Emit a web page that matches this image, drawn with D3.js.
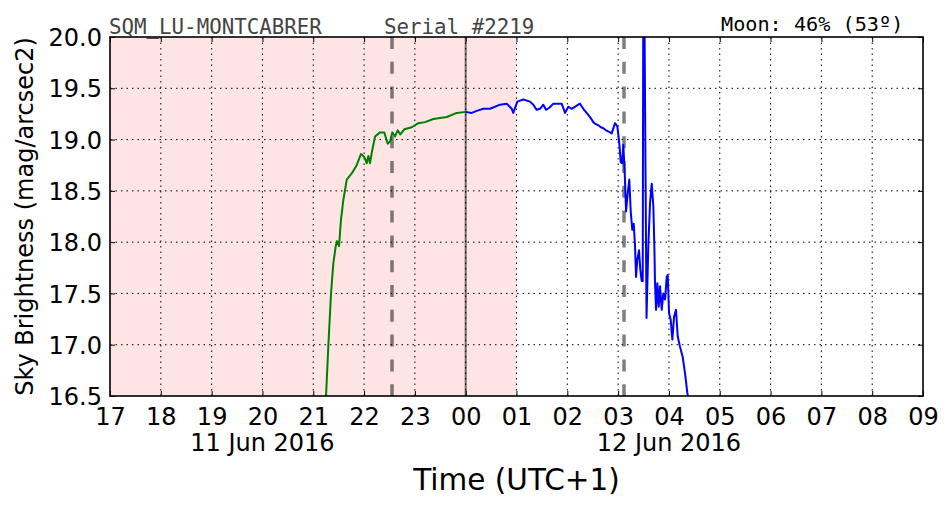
<!DOCTYPE html>
<html>
<head>
<meta charset="utf-8">
<script src="https://cdn.jsdelivr.net/npm/d3@7"></script>
<style>
  body { margin: 0; background: #fff; }
  svg { display: block; }
</style>
</head>
<body>
<div id="chart"></div>
<script>
// hours counted from 00:00 on 11 Jun 2016 (24 = midnight, 12 Jun)
const xTicks = d3.range(17, 34);
const yTicks = [16.5, 17.0, 17.5, 18.0, 18.5, 19.0, 19.5, 20.0];
const dateLabels = [
  { hour: 20, text: '11 Jun 2016' },
  { hour: 28, text: '12 Jun 2016' },
];
const twilightLines = [22.55, 27.116];
const midnight = 24;
const nightBand = [17, 25];

const greenHours = [21.247, 21.296, 21.35, 21.395, 21.442, 21.468, 21.507, 21.546, 21.592, 21.659,
  21.757, 21.855, 21.94, 22.005, 22.052, 22.084, 22.117, 22.151, 22.216, 22.314,
  22.398, 22.465, 22.511, 22.556, 22.609, 22.662, 22.713, 22.792, 22.938, 23.068,
  23.2, 23.363, 23.627, 23.824, 24.0];
const greenMag = [16.45, 16.98, 17.5, 17.79, 17.96, 18.01, 17.96, 18.22, 18.41, 18.61,
  18.67, 18.75, 18.86, 18.83, 18.77, 18.84, 18.77, 18.87, 19.03, 19.07,
  19.07, 18.96, 18.98, 19.07, 19.03, 19.09, 19.05, 19.10, 19.12, 19.16,
  19.17, 19.20, 19.22, 19.26, 19.27];

const blueHours = [24.0, 24.119, 24.217, 24.347, 24.479, 24.676, 24.807, 24.906, 24.937, 25.016,
  25.134, 25.266, 25.331, 25.398, 25.463, 25.528, 25.581, 25.646, 25.725, 25.823,
  25.89, 25.955, 26.02, 26.087, 26.185, 26.25, 26.315, 26.413, 26.46, 26.512, 26.56, 26.61,
  26.66, 26.709, 26.76, 26.807, 26.874, 26.939, 26.984, 27.024, 27.051, 27.077, 27.102, 27.13,
  27.156, 27.189, 27.22, 27.248, 27.279, 27.307, 27.332, 27.352, 27.378, 27.411,
  27.437, 27.464, 27.484, 27.496, 27.513, 27.559, 27.594, 27.628, 27.661, 27.693,
  27.713, 27.726, 27.746, 27.772, 27.799, 27.825, 27.858, 27.89, 27.923, 27.957,
  27.976, 28.002, 28.035, 28.067, 28.1, 28.139, 28.173, 28.218, 28.271, 28.317,
  28.362, 28.385];
const blueMag = [19.27, 19.26, 19.28, 19.30, 19.30, 19.34, 19.35, 19.30, 19.26, 19.37,
  19.39, 19.37, 19.34, 19.29, 19.30, 19.34, 19.29, 19.31, 19.35, 19.35,
  19.35, 19.26, 19.32, 19.30, 19.33, 19.35, 19.30, 19.24, 19.21, 19.17, 19.15, 19.14,
  19.12, 19.11, 19.09, 19.08, 19.06, 19.16, 19.13, 18.96, 18.78, 18.77, 18.95, 18.67,
  18.30, 18.48, 18.61, 18.30, 18.12, 18.18, 17.97, 17.66, 17.83, 17.92,
  17.73, 17.62, 17.62, 20.6, 20.6, 17.26, 17.96, 18.38, 18.57, 18.35,
  17.96, 17.60, 17.34, 17.60, 17.37, 17.57, 17.34, 17.50, 17.44, 17.66,
  17.68, 17.31, 17.24, 17.05, 17.27, 17.34, 17.08, 16.98, 16.88, 16.72,
  16.53, 16.47];

const margin = { top: 37, right: 29, bottom: 116, left: 110 };
const W = 952;
const H = 512;
const width = W - margin.left - margin.right;
const height = H - margin.top - margin.bottom;

const x = d3.scaleLinear().domain([17, 33]).range([0, width]);
const y = d3.scaleLinear().domain([16.5, 20.0]).range([height, 0]);

const svg = d3.select('#chart').append('svg')
  .attr('width', W)
  .attr('height', H)
  .style('font-family', '"DejaVu Sans", sans-serif');

const g = svg.append('g')
  .attr('transform', `translate(${margin.left},${margin.top})`);

g.append('clipPath').attr('id', 'clip')
  .append('rect').attr('width', width).attr('height', height);

// night shading
g.append('rect')
  .attr('x', x(nightBand[0]))
  .attr('width', x(nightBand[1]) - x(nightBand[0]))
  .attr('height', height)
  .attr('fill', 'rgb(255,228,228)');

// grid
g.append('g').selectAll('line').data(xTicks.slice(1, -1)).join('line')
  .attr('x1', d => x(d)).attr('x2', d => x(d))
  .attr('y1', 0).attr('y2', height)
  .attr('stroke', '#000').attr('stroke-width', 1)
  .attr('stroke-dasharray', '1.5,4');
g.append('g').selectAll('line').data(yTicks.slice(1, -1)).join('line')
  .attr('y1', d => y(d)).attr('y2', d => y(d))
  .attr('x1', 0).attr('x2', width)
  .attr('stroke', '#000').attr('stroke-width', 1)
  .attr('stroke-dasharray', '1.5,4');

// midnight and twilight markers
g.append('line')
  .attr('x1', x(midnight)).attr('x2', x(midnight))
  .attr('y1', 0).attr('y2', height)
  .attr('stroke', '#000').attr('stroke-opacity', 0.55).attr('stroke-width', 2);
g.append('g').selectAll('line').data(twilightLines).join('line')
  .attr('x1', d => x(d)).attr('x2', d => x(d))
  .attr('y1', 0).attr('y2', height)
  .attr('stroke', '#000').attr('stroke-opacity', 0.5)
  .attr('stroke-width', 3.5).attr('stroke-dasharray', '12,12.8');

const line = d3.line()
  .x(d => x(d[0]))
  .y(d => y(d[1]));

const plot = g.append('g').attr('clip-path', 'url(#clip)');
plot.append('path')
  .datum(d3.zip(greenHours, greenMag))
  .attr('d', line)
  .attr('fill', 'none')
  .attr('stroke', '#008000')
  .attr('stroke-width', 2)
  .attr('stroke-linejoin', 'round');
plot.append('path')
  .datum(d3.zip(blueHours, blueMag))
  .attr('d', line)
  .attr('fill', 'none')
  .attr('stroke', '#0000ff')
  .attr('stroke-width', 2)
  .attr('stroke-linejoin', 'round');

// axes (ticks inward on all sides)
const fmtHour = h => d3.format('02d')(h % 24);
const xAxis = g.append('g')
  .attr('transform', `translate(0,${height})`)
  .call(d3.axisBottom(x).tickValues(xTicks).tickFormat(fmtHour).tickSizeInner(-5).tickSizeOuter(0).tickPadding(13));
const xTop = g.append('g')
  .call(d3.axisTop(x).tickValues(xTicks).tickFormat('').tickSizeInner(-5).tickSizeOuter(0));
const yAxis = g.append('g')
  .call(d3.axisLeft(y).tickValues(yTicks).tickFormat(d3.format('.1f')).tickSizeInner(-5).tickSizeOuter(0).tickPadding(8));
const yRight = g.append('g')
  .attr('transform', `translate(${width},0)`)
  .call(d3.axisRight(y).tickValues(yTicks).tickFormat('').tickSizeInner(-5).tickSizeOuter(0));

[xAxis, xTop, yAxis, yRight].forEach(a => {
  a.select('.domain').remove();
  a.selectAll('line').attr('stroke', '#000').attr('stroke-width', 1);
  a.selectAll('text')
    .attr('fill', '#000')
    .style('font-family', '"DejaVu Sans", sans-serif')
    .style('font-size', '24px');
});
xAxis.selectAll('text').attr('dy', null).attr('y', 29);
yAxis.selectAll('text').attr('dy', '0.36em');

// frame
g.append('rect')
  .attr('width', width).attr('height', height)
  .attr('fill', 'none').attr('stroke', '#000').attr('stroke-width', 1.6);

// date labels
g.append('g').selectAll('text').data(dateLabels).join('text')
  .attr('x', d => x(d.hour))
  .attr('y', height + 55)
  .attr('text-anchor', 'middle')
  .style('font-size', '24px')
  .text(d => d.text);

// axis titles
svg.append('text')
  .attr('x', margin.left + width / 2)
  .attr('y', 490)
  .attr('text-anchor', 'middle')
  .style('font-size', '29.5px')
  .text('Time (UTC+1)');
svg.append('text')
  .attr('transform', `translate(33,${margin.top + height / 2}) rotate(-90)`)
  .attr('text-anchor', 'middle')
  .style('font-size', '24px')
  .text('Sky Brightness (mag/arcsec2)');

// header texts
const mono = '"DejaVu Sans Mono", monospace';
svg.append('text')
  .attr('x', 109).attr('y', 34)
  .attr('fill', '#444')
  .style('font-family', mono).style('font-size', '20.8px')
  .text('SQM_LU-MONTCABRER');
svg.append('text')
  .attr('x', 384).attr('y', 34)
  .attr('fill', '#444')
  .style('font-family', mono).style('font-size', '20.8px')
  .text('Serial #2219');
svg.append('text')
  .attr('x', 721).attr('y', 31)
  .attr('fill', '#000')
  .style('font-family', mono).style('font-size', '20.2px')
  .text('Moon: 46% (53º)');
</script>
</body>
</html>
